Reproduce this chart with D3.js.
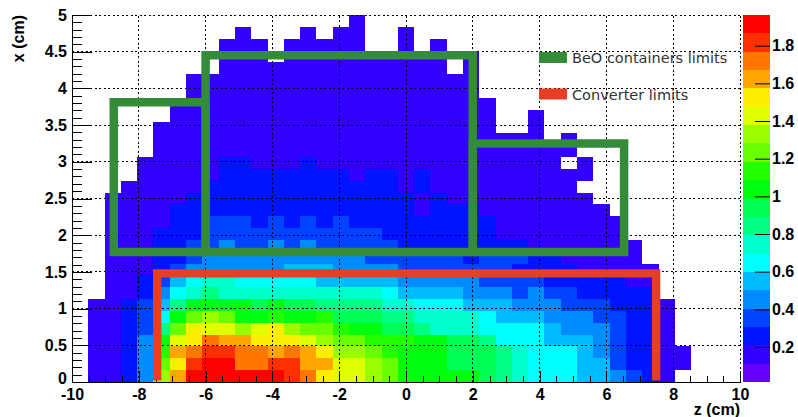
<!DOCTYPE html>
<html>
<head>
<meta charset="utf-8">
<script src="https://cdn.jsdelivr.net/npm/d3@7"></script>
<style>
  body { margin: 0; background: #fff; }
  svg { display: block; }
  text { font-family: "Liberation Sans", Arial, Helvetica, sans-serif; }
  text.legend-label { font-family: "DejaVu Sans", Verdana, sans-serif; }
</style>
</head>
<body>
<svg id="chart"></svg>
<script>
// binning of the 2D histogram
var nbinsZ = 41, zLow = -10, zHigh = 10;
var nbinsX = 31, xLow = 0, xHigh = 5;

// bin contents, first row is the top one (x near 5), last row is x near 0
// columns go from z = -10 to z = 10, 0 = empty bin
var counts = [
  [0,0,0,0,0,0,0,0,0,0, 0,0,0,0,0,0,0,.16,0,0, 0,0,0,0,0,0,0,0,0,0, 0,0,0,0,0,0,0,0,0,0,0],
  [0,0,0,0,0,0,0,0,0,0, .16,0,0,0,.16,0,.16,.16,0,0, .16,0,0,0,0,0,0,0,0,0, 0,0,0,0,0,0,0,0,0,0,0],
  [0,0,0,0,0,0,0,0,0,.16, .16,.16,0,.16,.16,.16,.16,.16,0,0, .16,0,.16,0,0,0,0,0,0,0, 0,0,0,0,0,0,0,0,0,0,0],
  [0,0,0,0,0,0,0,0,0,.16, .16,.16,0,.16,.16,.16,.16,.16,.16,.16, .16,.16,.16,0,.16,0,0,0,0,0, 0,0,0,0,0,0,0,0,0,0,0],
  [0,0,0,0,0,0,0,0,0,.16, .16,.16,.16,.16,.16,.16,.16,.16,.16,.16, .16,.16,.16,0,.16,0,0,0,0,0, 0,0,0,0,0,0,0,0,0,0,0],
  [0,0,0,0,0,0,0,.16,.16,.16, .16,.16,.16,.16,.16,.16,.16,.16,.16,.16, .16,.16,.16,.16,.16,0,0,0,0,0, 0,0,0,0,0,0,0,0,0,0,0],
  [0,0,0,0,0,0,0,.16,.16,.16, .16,.16,.16,.16,.16,.16,.16,.16,.16,.16, .16,.16,.16,.16,.16,0,0,0,0,0, 0,0,0,0,0,0,0,0,0,0,0],
  [0,0,0,0,0,0,.16,.16,.16,.16, .16,.16,.16,.16,.16,.16,.16,.16,.16,.16, .16,.16,.16,.16,.16,.16,0,0,0,0, 0,0,0,0,0,0,0,0,0,0,0],
  [0,0,0,0,0,0,.16,.16,.16,.16, .16,.16,.16,.16,.16,.16,.16,.16,.16,.16, .16,.16,.16,.16,.16,.16,0,0,.16,0, 0,0,0,0,0,0,0,0,0,0,0],
  [0,0,0,0,0,.16,.16,.16,.16,.16, .16,.16,.16,.16,.16,.16,.16,.16,.16,.16, .16,.16,.16,.16,.16,.16,0,0,.16,0, 0,0,0,0,0,0,0,0,0,0,0],
  [0,0,0,0,0,.16,.16,.16,.16,.16, .16,.16,.16,.16,.16,.16,.16,.16,.16,.16, .16,.16,.16,.16,.16,.16,.16,.16,.16,0, .16,0,0,0,0,0,0,0,0,0,0],
  [0,0,0,0,0,.16,.16,.16,.16,.16, .16,.16,.16,.16,.16,.16,.16,.16,.16,.16, .16,.16,.16,.16,.16,.16,.16,.16,.16,.16, .16,0,0,0,0,0,0,0,0,0,0],
  [0,0,0,0,.16,.16,.16,.16,.16,.26, .26,.16,.16,.16,.26,.16,.16,.16,.16,.16, .16,.16,.16,.16,.16,.16,.16,.16,.16,.16, 0,.16,0,0,0,0,0,0,0,0,0],
  [0,0,0,0,.16,.16,.16,.16,.16,.26, .26,.26,.26,.26,.26,.26,.26,.16,.26,.26, .16,.26,.16,.16,.16,.16,.16,.16,.16,.16, .16,.16,0,0,0,0,0,0,0,0,0],
  [0,0,0,.16,.16,.16,.16,.16,.26,.26, .26,.26,.26,.26,.26,.26,.26,.26,.26,.26, .16,.26,.16,.16,.16,.16,.16,.16,.16,.16, .16,0,0,0,0,0,0,0,0,0,0],
  [0,0,.16,.16,.16,.16,.16,.26,.26,.26, .26,.26,.26,.26,.26,.26,.26,.26,.26,.26, .26,.16,.26,.16,.16,.16,.16,.16,.16,.16, .16,.16,0,0,0,0,0,0,0,0,0],
  [0,0,.16,.16,.16,.16,.26,.26,.26,.26, .26,.26,.26,.26,.26,.26,.26,.26,.26,.26, .26,.16,.26,.26,.26,.16,.16,.16,.16,.16, .16,.16,.16,0,0,0,0,0,0,0,0],
  [0,0,.16,.16,.16,.16,.26,.26,.36,.36, .36,.26,.36,.26,.36,.26,.36,.26,.26,.26, .26,.26,.26,.26,.26,.26,.16,.16,.16,.16, .16,.16,.16,.16,0,0,0,0,0,0,0],
  [0,0,.16,.16,.16,.26,.26,.26,.36,.36, .36,.36,.36,.36,.36,.36,.36,.36,.36,.26, .26,.26,.26,.26,.26,.26,.16,.16,.16,.16, .16,.16,.16,.16,0,0,0,0,0,0,0],
  [0,0,.16,.16,.16,.26,.26,.36,.36,.45, .36,.36,.45,.36,.45,.36,.36,.36,.36,.36, .26,.26,.26,.26,.26,.26,.26,.26,.16,.16, .16,.16,.16,.16,.16,0,0,0,0,0,0],
  [0,0,.16,.16,.16,.26,.26,.36,.45,.45, .45,.45,.45,.45,.45,.45,.45,.45,.36,.36, .36,.36,.36,.36,.26,.36,.36,.36,.26,.26, .16,.16,.16,.16,.16,0,0,0,0,0,0],
  [0,0,.16,.16,.16,.26,.36,.45,.45,.45, .45,.45,.45,.55,.55,.55,.45,.45,.45,.45, .36,.36,.36,.36,.36,.36,.36,.26,.26,.26, .26,.16,.16,.16,.16,.16,0,0,0,0,0],
  [0,0,.16,.16,.26,.36,.55,.65,.75,.75, .65,.65,.65,.65,.65,.55,.55,.55,.55,.55, .45,.45,.45,.45,.45,.36,.36,.36,.36,.26, .26,.26,.26,.26,.16,.16,0,0,0,0,0],
  [0,0,.16,.16,.26,.45,.65,.75,.84,.75, .75,.75,.75,.75,.75,.75,.75,.75,.75,.65, .55,.55,.55,.55,.45,.45,.45,.36,.45,.36, .36,.26,.26,.26,.26,.26,0,0,0,0,0],
  [0,.16,.16,.26,.36,.55,.84,1.04,1.04,1.04, 1.04,.94,1.04,.94,.94,.84,.84,.84,.84,.75, .75,.65,.65,.65,.55,.55,.55,.45,.45,.45, .36,.36,.36,.26,.26,.26,.16,0,0,0,0],
  [0,.16,.16,.26,.36,.65,1.04,1.23,1.33,1.23, 1.04,1.04,1.14,1.04,1.04,1.14,.94,.94,.94,.84, .84,.75,.75,.75,.75,.65,.55,.55,.55,.45, .45,.45,.36,.36,.26,.26,.16,0,0,0,0],
  [0,.16,.16,.26,.36,.84,1.23,1.53,1.43,1.43, 1.33,1.43,1.53,1.33,1.23,1.23,1.14,1.04,1.04,.94, .94,.84,.75,.75,.75,.65,.65,.65,.65,.55, .45,.45,.45,.36,.26,.26,.16,0,0,0,0],
  [0,.16,.16,.26,.45,1.04,1.43,1.53,1.72,1.62, 1.62,1.53,1.53,1.53,1.43,1.33,1.23,1.23,1.14,1.14, 1.14,1.04,1.04,.94,.94,.84,.65,.65,.65,.55, .55,.55,.45,.36,.26,.26,.16,0,0,0,0],
  [0,.16,.16,.26,.45,1.14,1.62,1.72,1.82,1.82, 1.72,1.72,1.62,1.72,1.62,1.53,1.33,1.33,1.23,1.14, 1.04,1.04,1.04,.94,.94,.94,.84,.75,.65,.65, .65,.55,.45,.36,.26,.26,.16,.16,0,0,0],
  [0,.16,.16,.26,.45,1.23,1.53,1.82,1.92,1.92, 1.72,1.72,1.82,1.82,1.62,1.62,1.43,1.43,1.33,1.23, 1.04,1.04,1.04,.94,.94,.94,.84,.75,.65,.65, .65,.55,.55,.36,.26,.26,.16,.16,0,0,0],
  [0,.16,.16,.26,.45,1.33,1.62,1.92,1.92,1.92, 1.92,1.92,1.92,1.82,1.72,1.53,1.43,1.43,1.33,1.23, 1.04,1.04,1.04,1.04,1.04,.94,.84,.75,.65,.65, .65,.55,.55,.45,.36,.26,.16,0,0,0,0]
];

// colour axis
var zColorRange = [0.014, 1.963];
var paletteColors = ["#6300ff","#3300ff","#0014ff","#0044ff","#008bff","#00bbff","#00fffc",
  "#00ffcc","#00ff85","#00ff55","#00ff0e","#22ff00","#69ff00","#99ff00","#e0ff00","#ffee00",
  "#ffa700","#ff7700","#ff3000","#ff0000"];

var zTicks = [-10, -8, -6, -4, -2, 0, 2, 4, 6, 8, 10];
var xTicks = [0, 0.5, 1, 1.5, 2, 2.5, 3, 3.5, 4, 4.5, 5];
var colorTicks = [0.2, 0.4, 0.6, 0.8, 1, 1.2, 1.4, 1.6, 1.8];

// BeO containers: z limits of the three boxes, their tops and common bottom
var beoZ = [-8.75, -6, 2, 6.53];
var beoTop = [3.81, 4.45, 3.25];
var beoBottom = 1.77;
// converter
var convZ = [-7.45, 7.49];
var convTop = 1.48;
var convBottom = 0.02;

var legendLabels = ["BeO containers limits", "Converter limits"];
var legendColors = ["#348b3a", "#e53f28"];

var svg = d3.select('#chart').attr('width', 798).attr('height', 417);

var x = d3.scaleLinear().domain([zLow, zHigh]).range([72, 740]);
var y = d3.scaleLinear().domain([xLow, xHigh]).range([382, 15]);
var zEdge = d3.scaleLinear().domain([0, nbinsZ]).range([zLow, zHigh]);
var xEdge = d3.scaleLinear().domain([0, nbinsX]).range([xLow, xHigh]);
var color = d3.scaleQuantize().domain(zColorRange).range(paletteColors);

// cells
var cells = [];
counts.forEach(function (row, i) {
  var r = nbinsX - 1 - i;
  row.forEach(function (v, k) {
    if (v > 0 && k < nbinsZ) cells.push({k: k, r: r, v: v});
  });
});

svg.append('g')
  .selectAll('rect')
  .data(cells)
  .enter()
  .append('rect')
  .attr('x', d => x(zEdge(d.k)))
  .attr('y', d => y(xEdge(d.r + 1)))
  .attr('width', d => x(zEdge(d.k + 1)) - x(zEdge(d.k)))
  .attr('height', d => y(xEdge(d.r)) - y(xEdge(d.r + 1)))
  .attr('fill', d => color(d.v))
  .attr('shape-rendering', 'crispEdges');

// grid
var grid = svg.append('g')
  .attr('stroke', '#000')
  .attr('stroke-width', 1)
  .attr('stroke-dasharray', '2,2.5')
  .attr('shape-rendering', 'crispEdges');

grid.selectAll('line.gz')
  .data(zTicks.filter(d => d > zLow))
  .enter()
  .append('line')
  .attr('x1', d => x(d)).attr('x2', d => x(d))
  .attr('y1', y(xLow)).attr('y2', y(xHigh));

grid.selectAll('line.gx')
  .data(xTicks.filter(d => d > xLow))
  .enter()
  .append('line')
  .attr('x1', x(zLow)).attr('x2', x(zHigh))
  .attr('y1', d => y(d)).attr('y2', d => y(d));

// axes
var fmt = d => String(d);

var yMinor = svg.append('g').attr('transform', 'translate(' + x(zLow) + ',0)')
  .call(d3.axisLeft(y).ticks(50).tickSizeInner(-10).tickSizeOuter(0).tickFormat(''));
yMinor.select('.domain').remove();

var yAxis = svg.append('g').attr('transform', 'translate(' + x(zLow) + ',0)')
  .call(d3.axisLeft(y).tickValues(xTicks).tickSizeInner(-20).tickSizeOuter(0).tickPadding(5).tickFormat(fmt));

var xMinor = svg.append('g').attr('transform', 'translate(0,' + y(xLow) + ')')
  .call(d3.axisBottom(x).ticks(40).tickSizeInner(-6).tickSizeOuter(0).tickFormat(''));
xMinor.select('.domain').remove();

var xAxis = svg.append('g').attr('transform', 'translate(0,' + y(xLow) + ')')
  .call(d3.axisBottom(x).tickValues(zTicks).tickSizeInner(-11).tickSizeOuter(0).tickPadding(7).tickFormat(fmt));

svg.selectAll('.tick line').attr('stroke', '#000').attr('shape-rendering', 'crispEdges');
svg.selectAll('.domain').attr('stroke', '#000').attr('shape-rendering', 'crispEdges');
[xAxis, yAxis].forEach(function (a) {
  a.selectAll('text')
    .attr('font-size', 16)
    .attr('font-weight', 'bold')
    .attr('fill', '#000');
});
// the "0" of the vertical axis sits just above the "-10"
yAxis.selectAll('.tick text').filter(d => d === 0).attr('dy', '0.1em');

// axis titles
svg.append('text')
  .attr('x', x(zHigh))
  .attr('y', 415)
  .attr('text-anchor', 'end')
  .attr('font-size', 16)
  .attr('font-weight', 'bold')
  .text('z (cm)');

svg.append('text')
  .attr('transform', 'translate(24,' + y(xHigh) + ') rotate(-90)')
  .attr('text-anchor', 'end')
  .attr('font-size', 16)
  .attr('font-weight', 'bold')
  .text('x (cm)');

// BeO boxes and converter limits
var boxes = beoTop.map(function (top, i) {
  return [[beoZ[i], beoBottom], [beoZ[i], top], [beoZ[i + 1], top], [beoZ[i + 1], beoBottom]];
});
var line = d3.line().x(d => x(d[0])).y(d => y(d[1]));

svg.append('g')
  .selectAll('path')
  .data(boxes)
  .enter()
  .append('path')
  .attr('d', d => line(d) + 'Z')
  .attr('fill', 'none')
  .attr('stroke', legendColors[0])
  .attr('stroke-width', 8.5)
  .attr('stroke-linejoin', 'miter');

svg.append('path')
  .attr('d', line([[convZ[0], convBottom], [convZ[0], convTop], [convZ[1], convTop], [convZ[1], convBottom]]))
  .attr('fill', 'none')
  .attr('stroke', legendColors[1])
  .attr('stroke-width', 8.3)
  .attr('stroke-linejoin', 'miter')
  .attr('stroke-linecap', 'butt');

// legend
var legend = svg.append('g').selectAll('g')
  .data(legendLabels)
  .enter()
  .append('g')
  .attr('transform', (d, i) => 'translate(539,' + (52 + i * 36.5) + ')');

legend.append('rect')
  .attr('width', 28)
  .attr('height', 11)
  .attr('fill', (d, i) => legendColors[i]);

legend.append('text')
  .attr('class', 'legend-label')
  .attr('x', 33)
  .attr('y', 11)
  .attr('font-size', 14.5)
  .attr('fill', '#333')
  .text(d => d);

// colour bar
var cb = d3.scaleLinear().domain(zColorRange).range([382, 15]);
svg.append('g')
  .selectAll('rect')
  .data(paletteColors)
  .enter()
  .append('rect')
  .attr('x', 743)
  .attr('width', 27)
  .attr('y', c => cb(color.invertExtent(c)[1]))
  .attr('height', c => cb(color.invertExtent(c)[0]) - cb(color.invertExtent(c)[1]))
  .attr('fill', c => c)
  .attr('shape-rendering', 'crispEdges');

var cAxis = svg.append('g').attr('transform', 'translate(770,0)')
  .call(d3.axisRight(cb).tickValues(colorTicks).tickSizeInner(-15).tickSizeOuter(0).tickPadding(2).tickFormat(fmt));
cAxis.select('.domain').remove();
cAxis.selectAll('.tick line').attr('stroke', '#000');
cAxis.selectAll('text')
  .attr('font-size', 16)
  .attr('font-weight', 'bold')
  .attr('fill', '#000');
</script>
</body>
</html>
